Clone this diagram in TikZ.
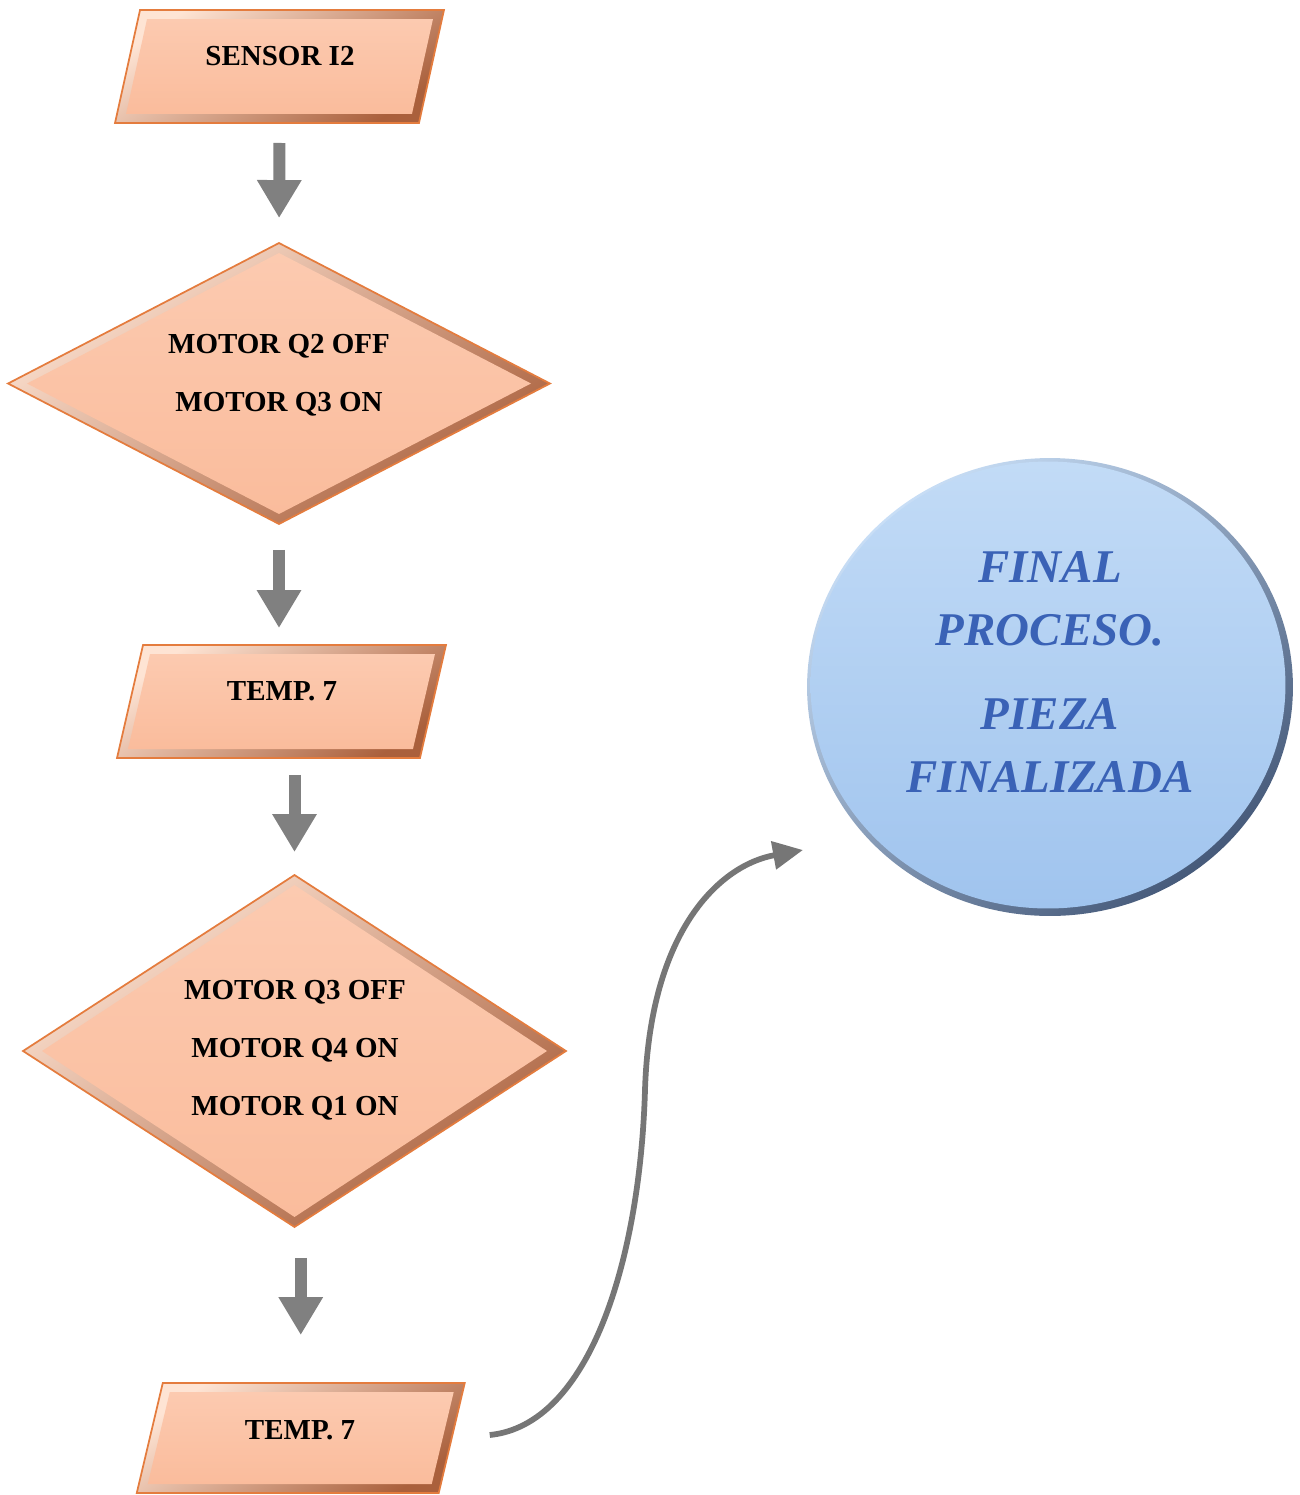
\documentclass[tikz,border=0pt]{standalone}
\usepackage{fontspec}
\setmainfont{Liberation Serif}
\usetikzlibrary{calc,arrows.meta,shapes.geometric}
\definecolor{peach}{RGB}{250,188,156}
\definecolor{peachtop}{RGB}{252,202,176}
\definecolor{peachlight}{RGB}{254,228,212}
\definecolor{peachdark}{RGB}{170,96,60}
\definecolor{orangeline}{RGB}{228,124,62}
\definecolor{bluetop}{RGB}{194,219,246}
\definecolor{bluebot}{RGB}{160,196,238}
\definecolor{rimlight}{RGB}{200,222,246}
\definecolor{rimdark}{RGB}{70,90,122}
\definecolor{bluetext}{RGB}{58,98,182}
\definecolor{arrowgray}{RGB}{128,128,128}
\definecolor{curvegray}{RGB}{118,118,118}

\newcommand{\myparabox}[2]{%
  \path[bevelouter] ($(#1.north west)+(#2,0)$) -- ($(#1.north east)+(#2,0)$)
     -- ($(#1.south east)+(-#2,0)$) -- ($(#1.south west)+(-#2,0)$) -- cycle;
  \path[bevelinner] ($(#1.north west)+(#2+7,9)$) -- ($(#1.north east)+(#2-11,9)$)
     -- ($(#1.south east)+(-#2-7,-9)$) -- ($(#1.south west)+(-#2+11,-9)$) -- cycle;
}
\newcommand{\mydiabox}[1]{%
  \path[bevelouter] (#1.north) -- (#1.east) -- (#1.south) -- (#1.west) -- cycle;
  \path[bevelinner] ($(#1.north)+(0,10)$) -- ($(#1.east)+(-19,0)$)
     -- ($(#1.south)+(0,-10)$) -- ($(#1.west)+(19,0)$) -- cycle;
}

\begin{document}
\begin{tikzpicture}[x=0.02cm,y=-0.02cm,
  shapebox/.style={draw=none,inner sep=0pt,outer sep=0pt},
  boxtext/.style={font=\bfseries\fontsize{16.5}{33}\selectfont,align=center,inner sep=0pt},
  fintext/.style={font=\bfseries\itshape\fontsize{26.7}{35.7}\selectfont,text=bluetext,align=center,inner sep=0pt},
  bevelouter/.style={draw=orangeline,line width=0.35mm,top color=peachlight,bottom color=peachdark,shading angle=35},
  bevelinner/.style={top color=peachtop,bottom color=peach},
  blockarr/.style={draw=arrowgray,line width=2.4mm,-{Triangle[width=8.4mm,length=7.6mm]}},
  curvearr/.style={draw=curvegray,line width=1.15mm,-{Triangle[width=5.5mm,length=6mm]}}]
\useasboundingbox (0,0) rectangle (1300,1495);

% shape anchors
\node[shapebox,minimum width=60.8mm,minimum height=22.6mm] (s1) at (279.5,66.5) {};
\node[shapebox,minimum width=108.4mm,minimum height=56.2mm] (d1) at (279,383.5) {};
\node[shapebox,minimum width=60.6mm,minimum height=22.6mm] (t1) at (281.5,701.5) {};
\node[shapebox,minimum width=108.6mm,minimum height=70.4mm] (d2) at (294.5,1051) {};
\node[shapebox,minimum width=60.4mm,minimum height=22mm] (t2) at (300.75,1438) {};
\node[ellipse,shapebox,minimum width=97.2mm,minimum height=91.6mm,
      top color=rimlight,bottom color=rimdark,shading angle=40] (fin) at (1050,687) {};

% bevelled shapes
\myparabox{s1}{12.5}
\mydiabox{d1}
\myparabox{t1}{13}
\mydiabox{d2}
\myparabox{t2}{13}
\path[top color=bluetop,bottom color=bluebot] ($(fin.center)+(-2,-2)$) ellipse [x radius=47.5mm, y radius=44.7mm];

% texts
\node[boxtext] (s1t) at (280,56) {SENSOR I2};
\node[boxtext] (d1t) at (279,375) {MOTOR Q2 OFF\\MOTOR Q3 ON};
\node[boxtext] (t1t) at (282,691) {TEMP. 7};
\node[boxtext] (d2t) at (295,1050) {MOTOR Q3 OFF\\MOTOR Q4 ON\\MOTOR Q1 ON};
\node[boxtext] (t2t) at (300,1430) {TEMP. 7};
\node[fintext] (fint) at (1050,672) {FINAL\\PROCESO.\\[12.5pt]PIEZA\\FINALIZADA};

% block arrows
\draw[blockarr,shorten <=4mm,shorten >=5mm] (s1.south) -- (d1.north);
\draw[blockarr,shorten <=5.2mm,shorten >=3.4mm] (d1.south) -- (d1.south |- t1.north);
\draw[blockarr,shorten <=3.4mm,shorten >=4.6mm] (d2.north |- t1.south) -- (d2.north);
\draw[blockarr,shorten <=6.2mm,shorten >=9.6mm] (t2.north |- d2.south) -- (t2.north);

% curved connector
\coordinate (cs) at ($(t2.east)+(38,-3)$);
\coordinate (cm) at (645,1090);
\coordinate (ce) at (803,850);
\draw[curvearr] (cs) .. controls +(100,-10) and +(-5,170) .. (cm)
      .. controls +(5,-160) and +(-83,15) .. (ce);
\end{tikzpicture}
\end{document}
